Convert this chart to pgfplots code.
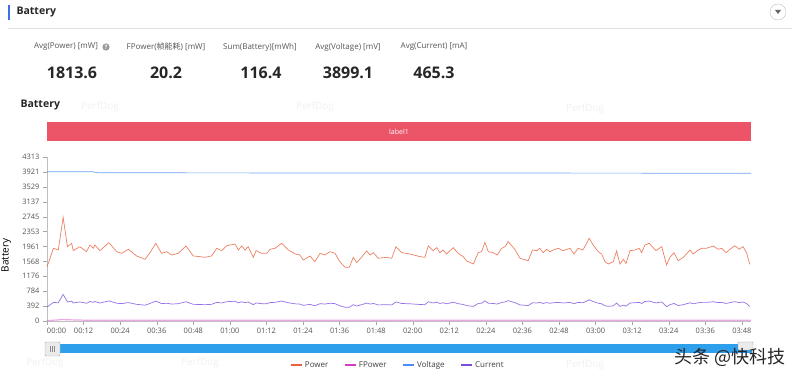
\documentclass[border=0pt]{standalone}
\usepackage{pgfplots}
\pgfplotsset{compat=1.18}
\usepackage{pgfplotstable}
\usepackage{fontspec}
\setmainfont{Open Sans}
\newfontfamily\cjk{Noto Sans CJK SC}
\definecolor{powerc}{HTML}{E8603C}
\definecolor{fpowerc}{HTML}{D63CC0}
\definecolor{voltc}{HTML}{4A8CF5}
\definecolor{currc}{HTML}{7B4EE0}
\definecolor{labred}{HTML}{EC5467}
\definecolor{slider}{HTML}{2E9FEA}
\definecolor{txt}{HTML}{555555}
\definecolor{hdrblue}{HTML}{3C6FE0}

\pgfplotstableread{
t power current
0 1430 367
1.0 1649 423
2.1 1912 490
3.7 1867 479
5.3 2727 699
6.7 1954 501
8.1 2043 524
8.6 1850 474
10.8 1954 501
13.0 1823 467
14.1 1999 513
15.2 1912 490
15.7 1999 513
17.4 1850 474
20.3 2060 528
22.9 1823 467
24.5 1780 456
26.7 1886 484
29.4 1710 438
32.2 1622 416
33.8 1797 461
35.7 2043 524
37.6 1780 456
39.3 1823 467
40.9 1736 445
43.1 1780 456
45.6 1973 506
48.0 1710 438
50.2 1692 434
51.8 1675 429
54.0 1710 438
55.7 1912 490
57.3 1850 474
59.0 1980 508
61.7 2025 519
62.8 1867 479
63.9 1973 506
65.0 1867 479
66.0 1954 501
67.7 1675 429
68.6 1850 474
70.4 1780 456
72.1 1780 456
73.2 1886 484
74.8 1912 490
77.0 2043 524
79.2 1867 479
81.4 1762 452
83.0 1736 445
84.1 1604 411
86.3 1710 438
87.9 1560 400
89.6 1780 456
91.2 1736 445
92.8 1823 467
94.5 1780 456
96.1 1560 400
97.8 1412 362
99.2 1412 362
100.5 1675 429
101.6 1534 393
103.2 1675 429
104.9 1841 472
106.0 1736 445
107.1 1797 461
108.7 1649 423
111.4 1675 429
113.1 1649 423
114.5 1954 501
116.4 1797 461
119.1 1762 452
122.4 1692 434
124.0 1675 429
125.1 1973 506
126.7 1850 474
127.9 1929 495
128.9 1797 461
130.0 1867 479
131.1 1762 452
133.3 1929 495
134.9 1780 456
136.6 1692 434
137.7 1578 405
139.9 1499 384
141.5 1797 461
142.6 1823 467
143.7 2069 531
144.8 1823 467
146.4 1797 461
147.7 1736 445
149.2 1912 490
150.3 1954 501
151.3 2087 535
153.5 1886 484
155.2 1649 423
157.9 1586 407
159.3 1867 479
160.7 1850 474
161.7 1912 490
162.8 1797 461
163.9 1886 484
165.0 1823 467
166.1 1867 479
167.8 1912 490
169.4 1850 474
171.6 1912 490
172.9 1762 452
174.3 1912 490
175.8 1867 479
176.8 1999 513
177.9 2175 558
179.2 1999 513
180.9 1823 467
182.0 1762 452
183.1 1560 400
184.2 1499 384
185.8 1560 400
186.9 1841 472
188.0 1499 384
189.1 1622 416
190.0 1516 389
191.3 1850 474
192.9 1867 479
194.3 1912 490
195.1 1797 461
196.2 1999 513
197.6 2043 524
198.4 1973 506
199.8 1850 474
201.7 1954 501
203.3 1473 378
204.4 1675 429
205.7 1797 461
207.1 1586 407
208.8 1675 429
211.0 1867 479
212.0 1762 452
213.7 1867 479
214.8 1912 490
216.4 1912 490
218.6 1973 506
220.2 1886 484
221.4 1912 490
222.8 1797 461
224.1 1886 484
225.7 1980 508
227.1 1886 484
228.4 1954 501
229.6 1780 456
230.6 1490 382
}\battery

\begin{document}
\begin{tikzpicture}
\path[use as bounding box] (0pt,0pt) rectangle (800pt,379pt);
% header
\fill[hdrblue] (8pt,359pt) rectangle (10pt,374pt);
\node[anchor=west, font=\fontsize{10.5}{12}\selectfont\bfseries, text=black!85] at (13pt,367pt) {Battery};
\draw[black!12] (8pt,351pt) -- (792pt,351pt);
\draw[black!25] (778pt,367pt) circle (8pt);
\fill[black!60] (775pt,369pt) -- (781pt,369pt) -- (778pt,365pt) -- cycle;
% stats
\begin{scope}[every node/.style={font=\fontsize{8}{10}\selectfont, text=txt}]
\node at (66pt,332pt) {Avg(Power) [mW]};
\node at (166pt,332pt) {FPower({\cjk 帧能耗}) [mW]};
\node at (260pt,332pt) {Sum(Battery)[mWh]};
\node at (348pt,332pt) {Avg(Voltage) [mV]};
\node at (434pt,332pt) {Avg(Current) [mA]};
\end{scope}
\fill[black!40] (106pt,332pt) circle (3.6pt);
\node[font=\fontsize{6}{6}\selectfont\bfseries, text=white] at (106pt,332pt) {?};
\begin{scope}[every node/.style={font=\fontsize{16}{18}\selectfont\bfseries, text=black!85}]
\node at (72pt,306pt) {1813.6};
\node at (166pt,306pt) {20.2};
\node at (261pt,306pt) {116.4};
\node at (348pt,306pt) {3899.1};
\node at (434pt,306pt) {465.3};
\end{scope}
\node[anchor=west, font=\fontsize{10.5}{12}\selectfont\bfseries, text=black!85] at (17pt,274pt) {Battery};
% faint watermarks
\begin{scope}[every node/.style={font=\fontsize{10}{11}\selectfont, text=black!6}]
\node at (100pt,272pt) {PerfDog};
\node at (315pt,272pt) {PerfDog};
\node at (585pt,270pt) {PerfDog};
\node at (45pt,16pt) {PerfDog};
\node at (200pt,16pt) {PerfDog};
\node at (585pt,14pt) {PerfDog};
\end{scope}
% label bar
\fill[labred] (47pt,238pt) rectangle (751pt,257pt);
\node[font=\fontsize{7}{8}\selectfont, text=white] at (399pt,247.5pt) {label1};
\begin{axis}[
  at={(47pt,58pt)}, anchor=south west,
  scale only axis, width=704pt, height=164pt,
  xmin=0, xmax=231, ymin=0, ymax=4313,
  axis lines=left,
  axis line style={-, draw=black!25},
  tick align=outside,
  major tick length=4pt,
  tick style={black!35},
  xtick={0,12,...,228},
  xticklabels={\makebox[0pt][l]{00:00},00:12,00:24,00:36,00:48,01:00,01:12,01:24,01:36,01:48,02:00,02:12,02:24,02:36,02:48,03:00,03:12,03:24,03:36,03:48},
  ytick={0,392,784,1176,1568,1961,2353,2745,3137,3529,3921,4313},
  /pgf/number format/assume math mode=true,
  /pgf/number format/1000 sep={},
  tick label style={font=\fontsize{7.5}{9}\selectfont, text=txt},
  ylabel={Battery},
  ylabel style={font=\fontsize{8}{10}\selectfont\bfseries, text=black!85},
  every axis y label/.style={at={(axis description cs:-0.046,0.4)}, rotate=90, anchor=south},
  legend columns=4,
  legend style={at={(0.498,-0.268)}, anchor=center, draw=none, fill=none,
    font=\fontsize{8}{10}\selectfont, text=black!75,
    /tikz/every even column/.append style={column sep=13pt}},
  legend image code/.code={\draw[#1, line width=2.5pt, opacity=1] (0pt,0pt) -- (11pt,0pt);},
  clip=false,
]
\addplot[powerc, line width=0.7pt, opacity=0.8] table[x=t, y=power] {\battery};
\addlegendentry{Power}
\addplot[fpowerc, line width=1.2pt, opacity=0.45] coordinates {
(0,12) (3,25) (5,38) (8,30) (12,22) (30,18) (60,20) (90,19) (120,21) (150,20) (180,19) (210,20) (231,18)};
\addlegendentry{FPower}
\addplot[voltc, line width=0.7pt, opacity=0.8] coordinates {
(0,3925) (15,3925) (16.5,3898) (60,3895) (120,3892) (180,3889) (231,3886)};
\addlegendentry{Voltage}
\addplot[currc, line width=0.7pt, opacity=0.8] table[x=t, y=current] {\battery};
\addlegendentry{Current}
\end{axis}
% slider
\fill[slider] (47pt,26pt) rectangle (752pt,35pt);
\filldraw[draw=black!35, fill=black!8, rounded corners=1pt] (45pt,23pt) rectangle (60pt,37pt);
\draw[black!45] (50.5pt,27pt) -- (50.5pt,33pt) (52.5pt,27pt) -- (52.5pt,33pt) (54.5pt,27pt) -- (54.5pt,33pt);
\filldraw[draw=black!35, fill=black!8, rounded corners=1pt] (738pt,29pt) rectangle (753pt,37pt);
% corner watermark
\node[font=\cjk\fontsize{18}{20}\selectfont, text=black!85, anchor=east] at (789pt,22pt) {头条 @快科技};
\end{tikzpicture}
\end{document}
